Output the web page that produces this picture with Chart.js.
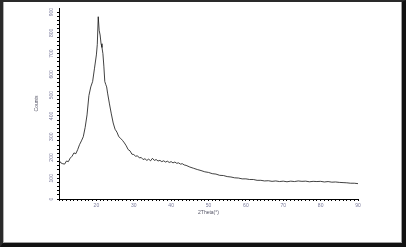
<!DOCTYPE html>
<html lang="en">
<head>
  <meta charset="UTF-8">
  <title>XRD pattern</title>
  <script src="https://cdn.jsdelivr.net/npm/chart.js"></script>
  <style>
    html, body { margin: 0; padding: 0; background: #fff; }
    .wrap { position: relative; width: 406px; height: 247px; overflow: hidden; }
    canvas { position: absolute; left: 0; top: 0; }
    /* рамка вокруг картинки */
    .frame {
      position: absolute; left: 0; top: 0; right: 0; bottom: 0;
      border-left: 3px solid #2a2a2a;
      border-top: 2px solid #2a2a2a;
      border-right: 4px solid #111;
      border-bottom: 4px solid #111;
      pointer-events: none;
    }
    .frame-inner {
      position: absolute; left: 0; top: 0; right: 0; bottom: 0;
      border-right: 1px solid #a0a0a0;
      border-bottom: 1px solid #a0a0a0;
      border-left: 1px solid #b0b0b0;
    }
  </style>
</head>
<body>
<div class="wrap">
  <canvas id="xrd" width="406" height="247"></canvas>
  <div class="frame"><div class="frame-inner"></div></div>
</div>

<script>
  // 2θ positions and intensities
  const twoTheta = [10, 10.5, 11, 11.5, 12, 12.5, 13, 13.5, 14, 14.5, 15, 15.5, 16, 16.5, 17, 17.5, 18, 18.5, 19, 19.5,
    20, 20.25, 20.5, 20.75, 21, 21.25, 21.5, 21.75, 22, 22.25, 22.5, 22.75, 23, 23.5, 24, 24.5, 25, 25.5, 26, 26.5, 27, 27.5,
    28, 28.5, 29, 29.5, 30, 30.5, 31, 31.5, 32, 32.5, 33, 33.5, 34, 34.5, 35, 35.5, 36, 36.5, 37, 37.5,
    38, 38.5, 39, 39.5, 40, 40.5, 41, 41.5, 42, 42.5, 43, 43.5, 44, 45, 46, 47, 48, 49, 50, 51, 52, 53, 54, 55,
    56, 57, 58, 59, 60, 61, 62, 63, 64, 65, 66, 67, 68, 69, 70, 71, 72, 73, 74, 75,
    76, 77, 78, 79, 80, 81, 82, 83, 84, 85, 86, 87, 88, 89, 90];
  const counts = [186, 174, 170, 168, 183, 180, 197, 206, 222, 218, 238, 262, 280, 300, 345, 405, 498, 540, 566, 630,
    694, 745, 878, 812, 790, 748, 730, 700, 640, 566, 552, 540, 510, 458, 410, 366, 336, 322, 300, 292, 282, 270,
    256, 238, 232, 216, 214, 206, 208, 198, 200, 190, 194, 186, 192, 184, 196, 186, 190, 183, 186, 180,
    184, 178, 182, 176, 180, 174, 178, 172, 174, 168, 170, 164, 162, 154, 148, 142, 137, 131, 128, 122, 120, 114, 113, 108,
    106, 102, 101, 97, 97, 94, 94, 90, 90, 87, 88, 85, 87, 84, 86, 83, 86, 84, 87, 85,
    86, 83, 85, 84, 85, 82, 84, 81, 82, 80, 79, 78, 76, 76, 74];

  // подписи осей
  const xTickLabels = [20, 30, 40, 50, 60, 70, 80, 90];
  const yTickLabels = [0, 100, 200, 300, 400, 500, 600, 700, 800, 900];

  const points = twoTheta.map((t, i) => ({ x: t, y: counts[i] }));
  const tickFont = { family: 'Liberation Sans', size: 5 };

  new Chart(document.getElementById('xrd'), {
    type: 'line',
    data: {
      datasets: [{
        data: points,
        borderColor: '#111',
        borderWidth: 0.8,
        pointRadius: 0,
        tension: 0,
        fill: false
      }]
    },
    options: {
      responsive: false,
      animation: false,
      layout: { padding: { left: 0, top: 8, right: 48, bottom: 0 } },
      plugins: { legend: { display: false }, tooltip: { enabled: false } },
      scales: {
        x: {
          type: 'linear',
          min: 10,
          max: 90,
          afterBuildTicks: (scale) => {
            // мелкие деления через 1°
            const t = [];
            for (let v = 10; v <= 90; v++) t.push({ value: v });
            scale.ticks = t;
          },
          afterFit: (scale) => { scale.height = 48; },
          ticks: {
            autoSkip: false,
            maxRotation: 0,
            padding: 2,
            font: tickFont,
            color: '#7b7b9c',
            callback: (v) => xTickLabels.includes(v) ? String(v) : ''
          },
          grid: { drawOnChartArea: false, tickLength: 2, color: '#000', tickWidth: 1 },
          border: { display: true, color: '#000', width: 1 },
          title: {
            display: true,
            text: '2Theta(°)',
            font: { family: 'Liberation Sans', size: 5 },
            color: '#556',
            padding: { top: 0, bottom: 31 }
          }
        },
        y: {
          type: 'linear',
          min: 0,
          max: 920,
          afterBuildTicks: (scale) => {
            const t = [];
            for (let v = 0; v <= 900; v += 20) t.push({ value: v });
            scale.ticks = t;
          },
          afterFit: (scale) => { scale.width = 59; },
          ticks: {
            autoSkip: false,
            minRotation: 90,
            maxRotation: 90,
            crossAlign: 'center',
            padding: 1,
            font: tickFont,
            color: '#7b7b9c',
            callback: (v) => yTickLabels.includes(v) ? String(v) : ''
          },
          grid: { drawOnChartArea: false, tickLength: 2, color: '#000', tickWidth: 1 },
          border: { display: true, color: '#000', width: 1 },
          title: {
            display: true,
            text: 'Counts',
            font: { family: 'Liberation Sans', size: 5 },
            color: '#556',
            padding: { top: 34, bottom: 0 }
          }
        }
      }
    }
  });
</script>
</body>
</html>
